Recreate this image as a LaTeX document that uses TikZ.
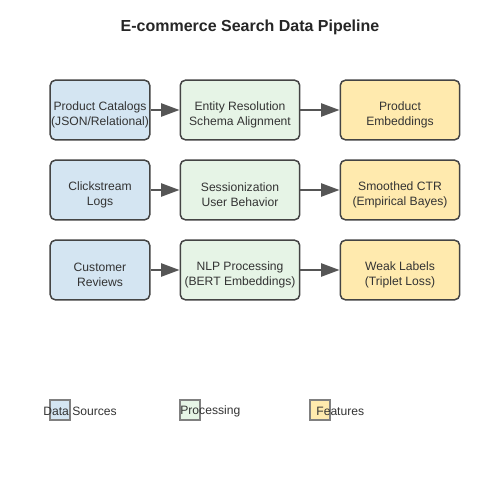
\documentclass[tikz,border=0pt]{standalone}
\usepackage{fontspec}
\setmainfont{Liberation Sans}
\usetikzlibrary{arrows.meta}
\definecolor{srcfill}{HTML}{D4E5F2}
\definecolor{procfill}{HTML}{E6F4E6}
\definecolor{featfill}{HTML}{FFEAAE}
\definecolor{edgegray}{HTML}{444444}
\definecolor{arrgray}{HTML}{555555}
\tikzset{
  stagetext/.style={align=center, inner sep=0pt, yshift=-2.8pt,
    font=\fontsize{6.9}{8.3}\selectfont, text=black!80},
  stage/.style={draw=edgegray, line width=0.85pt, rounded corners=3pt,
    inner sep=0pt, minimum height=34pt, label={[stagetext]center:#1}},
  srcbox/.style={stage={#1}, fill=srcfill, minimum width=56.7pt},
  procbox/.style={stage={#1}, fill=procfill, minimum width=68pt},
  featbox/.style={stage={#1}, fill=featfill, minimum width=68pt},
  flow/.style={draw=arrgray, line width=1.1pt, -{Triangle[length=10.5pt, width=7.5pt]}},
  keybox/.style={draw=gray, line width=0.7pt, minimum size=11.3pt, inner sep=0pt},
  keytext/.style={font=\fontsize{6.9}{8.3}\selectfont, text=black!80, inner sep=0pt}
}
\begin{document}
\begin{tikzpicture}[x=0.02cm, y=-0.02cm]
  \useasboundingbox (0,0) rectangle (500,500);
  \node[font=\bfseries\fontsize{9.1}{11}\selectfont, text=black!85] (title) at (250,27) {E-commerce Search Data Pipeline};
  % sources
  \node[srcbox={Product Catalogs\\(JSON/Relational)}] (catalog) at (100,110) {};
  \node[srcbox={Clickstream\\Logs}] (clicks) at (100,190) {};
  \node[srcbox={Customer\\Reviews}] (reviews) at (100,270) {};
  % processing
  \node[procbox={Entity Resolution\\Schema Alignment}] (entity) at (240,110) {};
  \node[procbox={Sessionization\\User Behavior}] (session) at (240,190) {};
  \node[procbox={NLP Processing\\(BERT Embeddings)}] (nlp) at (240,270) {};
  % features
  \node[featbox={Product\\Embeddings}] (embed) at (400,110) {};
  \node[featbox={Smoothed CTR\\(Empirical Bayes)}] (ctr) at (400,190) {};
  \node[featbox={Weak Labels\\(Triplet Loss)}] (weak) at (400,270) {};
  \foreach \a/\b in {catalog/entity, clicks/session, reviews/nlp, entity/embed, session/ctr, nlp/weak}
    \draw[flow] (\a) -- (\b);
  % legend
  \node[keybox, fill=srcfill] (keysrc) at (60,410) {};
  \node[keybox, fill=procfill] (keyproc) at (190,410) {};
  \node[keybox, fill=featfill] (keyfeat) at (320,410) {};
  \node[keytext, anchor=west] (labsrc) at (43,411) {Data Sources};
  \node[keytext, anchor=west] (labproc) at (180,411) {Processing};
  \node[keytext, anchor=west] (labfeat) at (316,411) {Features};
\end{tikzpicture}
\end{document}
